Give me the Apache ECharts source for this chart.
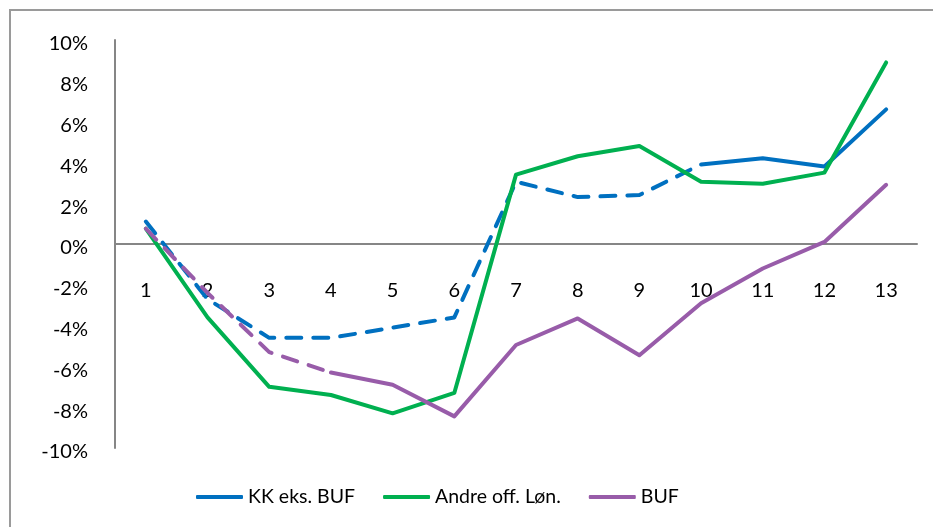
<!DOCTYPE html>
<html>
<head>
<meta charset="utf-8">
<script src="https://cdn.jsdelivr.net/npm/echarts@6/dist/echarts.min.js"></script>
<style>
  html, body { margin: 0; padding: 0; background: #fff; overflow: hidden; }
  #wrap { position: relative; width: 933px; height: 527px; }
  #frame { position: absolute; left: 9px; top: 9px; width: 1000px; height: 600px; border: 2px solid #9a9a9a; box-sizing: border-box; }
  #chart { position: absolute; left: 0; top: 0; width: 933px; height: 527px; }
</style>
</head>
<body>
<div id="wrap">
  <div id="frame"></div>
  <div id="chart"></div>
</div>
<script>
const categories = ['1', '2', '3', '4', '5', '6', '7', '8', '9', '10', '11', '12', '13']
const kkEksBuf = [1.1, -2.7, -4.6, -4.6, -4.1, -3.6, 3.05, 2.3, 2.4, 3.9, 4.2, 3.8, 6.6]
const andreOffLon = [0.75, -3.6, -7.0, -7.4, -8.3, -7.3, 3.4, 4.3, 4.8, 3.05, 2.95, 3.5, 8.9]
const buf = [0.75, -2.4, -5.3, -6.3, -6.9, -8.45, -4.95, -3.65, -5.45, -2.9, -1.2, 0.1, 2.9]
// index where the dashed part stops and the solid line takes over
const kkDashEnd = 9
const bufDashEnd = 3

const FONT = 'Lato, "Open Sans", sans-serif'
const BLUE = '#0070c0'
const GREEN = '#00b050'
const PURPLE = '#985ca9'

const chart = echarts.init(document.getElementById('chart'), null, { renderer: 'canvas' })

// split a series into a dashed head and a solid tail
const solidPart = (values, from) => values.map((v, i) => (i >= from ? v : null))
const dashPart = (values, to) => values.map((v, i) => (i <= to ? v : null))

const lineBase = (name, color, data, dashed) => ({
  name,
  type: 'line',
  data,
  symbol: 'none',
  color,
  connectNulls: false,
  lineStyle: {
    color,
    width: 4,
    cap: 'round',
    join: 'round',
    type: dashed ? [15, 12] : 'solid'
  },
  emphasis: { disabled: true }
})

const option = {
  animation: false,
  backgroundColor: 'transparent',
  textStyle: { fontFamily: FONT },
  grid: { left: 115, right: 16, top: 40, bottom: 79 },
  legend: {
    data: ['KK eks. BUF', 'Andre off. Løn.', 'BUF'],
    left: 191,
    top: 482,
    icon: 'roundRect',
    itemWidth: 47,
    itemHeight: 4,
    itemGap: 28,
    textStyle: { fontFamily: FONT, fontSize: 19.5, color: '#000' }
  },
  xAxis: {
    type: 'category',
    data: categories,
    boundaryGap: true,
    // the category axis sits on the 0% line, 204px above the bottom of the plot
    offset: -204,
    axisLine: { onZero: false, lineStyle: { color: '#868686', width: 2 } },
    axisTick: { show: false },
    axisLabel: { color: '#000', fontSize: 20, fontFamily: FONT, margin: 37 },
    splitLine: { show: false }
  },
  yAxis: {
    type: 'value',
    min: -10,
    max: 10,
    interval: 2,
    axisLine: { show: true, lineStyle: { color: '#868686', width: 2 } },
    axisTick: { show: false },
    axisLabel: {
      color: '#000',
      fontSize: 20,
      fontFamily: FONT,
      margin: 27,
      lineHeight: 30,
      verticalAlign: 'top',
      padding: [-11, 0, 0, 0],
      formatter: '{value}%'
    },
    splitLine: { show: false }
  },
  series: [
    lineBase('KK eks. BUF', BLUE, solidPart(kkEksBuf, kkDashEnd), false),
    lineBase('KK eks. BUF', BLUE, dashPart(kkEksBuf, kkDashEnd), true),
    lineBase('Andre off. Løn.', GREEN, andreOffLon, false),
    lineBase('BUF', PURPLE, solidPart(buf, bufDashEnd), false),
    lineBase('BUF', PURPLE, dashPart(buf, bufDashEnd), true)
  ]
}

chart.setOption(option)
</script>
</body>
</html>
